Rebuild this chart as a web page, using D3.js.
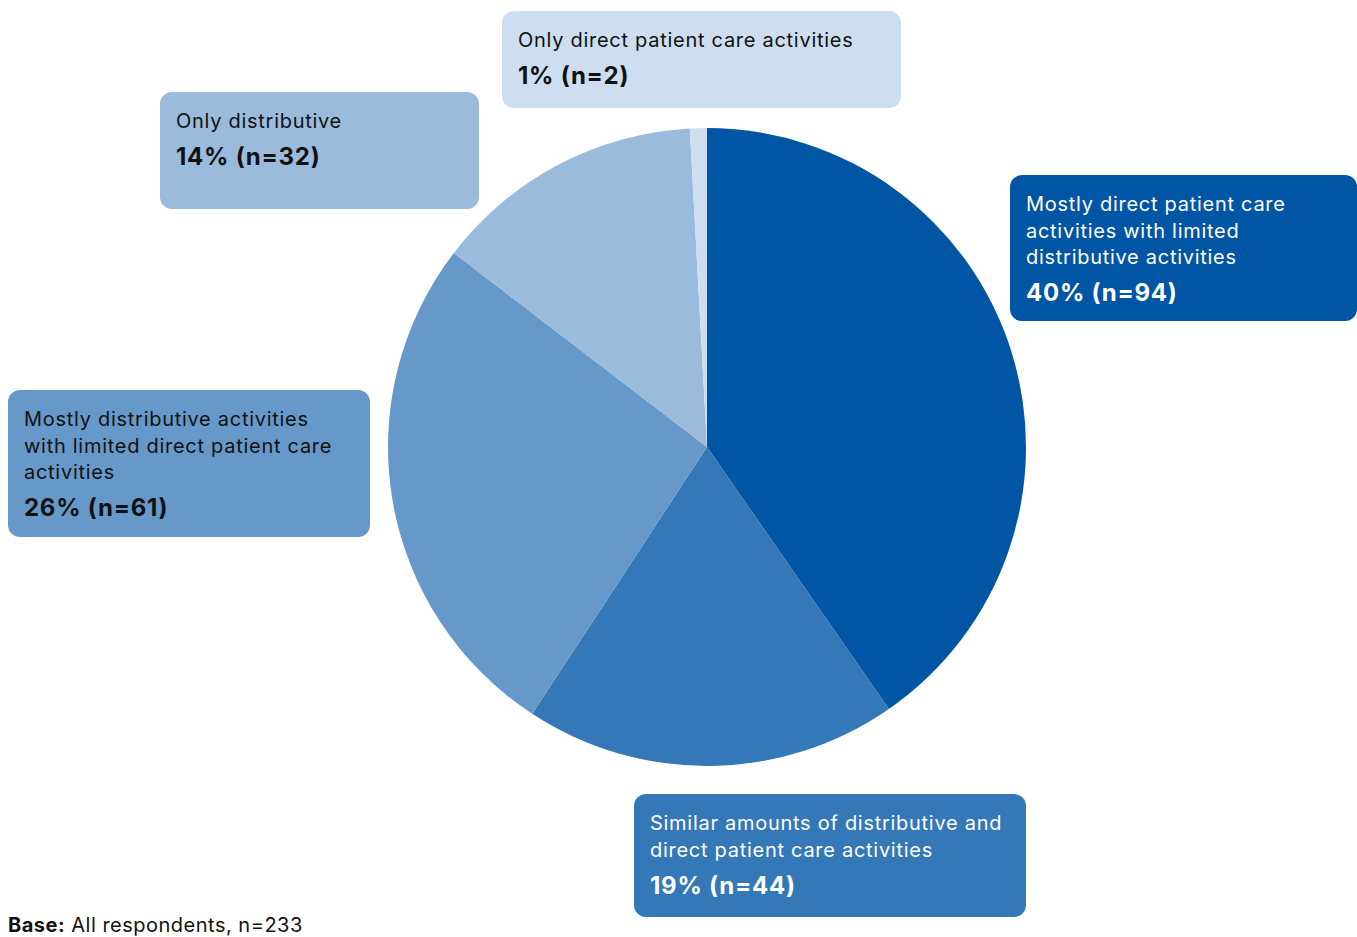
<!DOCTYPE html>
<html>
<head>
<meta charset="utf-8">
<script src="https://cdn.jsdelivr.net/npm/d3@7/dist/d3.min.js"></script>
<style>
  html, body { margin: 0; padding: 0; background: #fff; }
  svg { display: block; font-family: Inter, "Noto Sans", sans-serif; }
</style>
</head>
<body>
<svg id="chart" width="1357" height="937"></svg>
<script>
// Work pattern categories, in clockwise order from 12 o'clock
const categories = [
  "Mostly direct patient care activities with limited distributive activities",
  "Similar amounts of distributive and direct patient care activities",
  "Mostly distributive activities with limited direct patient care activities",
  "Only distributive",
  "Only direct patient care activities"
];
const counts = [94, 44, 61, 32, 2];
const percents = [40, 19, 26, 14, 1];
const colors = ["#0055a5", "#3478b8", "#6699c9", "#9bbbdd", "#cddef0"];
const textColors = ["#ffffff", "#ffffff", "#111111", "#111111", "#111111"];

// Label lines as wrapped in each callout
const labelLines = [
  ["Mostly direct patient care", "activities with limited", "distributive activities"],
  ["Similar amounts of distributive and", "direct patient care activities"],
  ["Mostly distributive activities", "with limited direct patient care", "activities"],
  ["Only distributive"],
  ["Only direct patient care activities"]
];

// Callout box placement: [x, y, width, height]
const boxes = [
  [1010, 175, 347, 146],
  [634, 794, 392, 123],
  [8, 390, 362, 147],
  [160, 92, 319, 117],
  [502, 11, 399, 97]
];

const svg = d3.select("#chart");
const cx = 707, cy = 447, radius = 319;

const pie = d3.pie().sort(null).value(d => d)(counts);
const arc = d3.arc().innerRadius(0).outerRadius(radius);

svg.append("g")
  .attr("transform", `translate(${cx},${cy})`)
  .selectAll("path")
  .data(pie)
  .join("path")
  .attr("d", arc)
  .attr("fill", (d, i) => colors[i]);

// Callouts
const callouts = svg.append("g").selectAll("g")
  .data(categories)
  .join("g")
  .attr("transform", (d, i) => `translate(${boxes[i][0]},${boxes[i][1]})`);

callouts.append("rect")
  .attr("width", (d, i) => boxes[i][2])
  .attr("height", (d, i) => boxes[i][3])
  .attr("rx", 12)
  .attr("fill", (d, i) => colors[i]);

callouts.each(function(d, i) {
  const g = d3.select(this);
  const lines = labelLines[i];
  lines.forEach((line, j) => {
    g.append("text")
      .attr("x", 16)
      .attr("y", 36 + j * 26.5)
      .attr("font-size", 20)
      .attr("letter-spacing", 0.72)
      .attr("fill", textColors[i])
      .text(line);
  });
  g.append("text")
    .attr("x", 16)
    .attr("y", 36 + (lines.length - 1) * 26.5 + 37)
    .attr("font-size", 24)
    .attr("font-weight", 700)
    .attr("letter-spacing", 0.75)
    .attr("fill", textColors[i])
    .text(`${percents[i]}% (n=${counts[i]})`);
});

// Base note
const note = svg.append("text")
  .attr("x", 8)
  .attr("y", 932)
  .attr("font-size", 20)
  .attr("letter-spacing", 0.5)
  .attr("fill", "#111111");
note.append("tspan").attr("font-weight", 700).text("Base:");
note.append("tspan").text(" All respondents, n=" + d3.sum(counts));
</script>
</body>
</html>
